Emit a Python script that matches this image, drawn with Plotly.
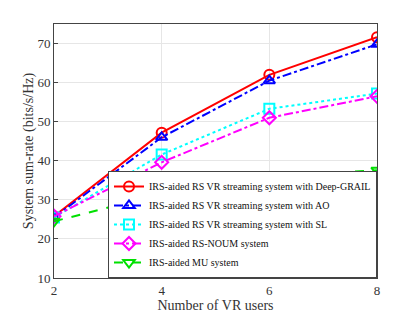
import plotly.graph_objects as go

users = [2, 4, 6, 8]
deep_grail = [25.8, 47.2, 62.0, 71.6]
ao = [25.5, 46.0, 60.5, 69.8]
sl = [25.5, 41.6, 53.3, 57.2]
noum = [25.8, 39.6, 51.0, 56.5]
mu = [24.5, 31.5, 36.0, 37.6]

names = [
    "IRS-aided RS VR streaming system with Deep-GRAIL",
    "IRS-aided RS VR streaming system with AO",
    "IRS-aided RS VR streaming system with SL",
    "IRS-aided RS-NOUM system",
    "IRS-aided MU system",
]
series = [deep_grail, ao, sl, noum, mu]
colors = ["#ff0000", "#0000ff", "#00ffff", "#ff00ff", "#00e000"]
dashes = ["solid", "dashdot", "dot", "dashdot", "dash"]
symbols = ["circle-open", "triangle-up-open", "square-open", "diamond-open", "triangle-down-open"]

SERIF = "Times New Roman, Liberation Serif, serif"

fig = go.Figure()
for n, s, c, d, m in zip(names, series, colors, dashes, symbols):
    fig.add_trace(go.Scatter(
        x=users, y=s, name=n, mode="lines+markers",
        line=dict(color=c, width=2, dash=d),
        marker=dict(symbol=m, size=10, color=c, line=dict(color=c, width=2)),
    ))

axis_common = dict(
    showline=True, linecolor="#444", linewidth=1, mirror=True,
    ticks="inside", ticklen=4, tickcolor="#444",
    showgrid=True, gridcolor="#e6e6e6", gridwidth=1, zeroline=False,
    tickfont=dict(family=SERIF, size=13, color="#333"),
    automargin=False,
)

fig.update_layout(
    width=407, height=305,
    margin=dict(l=46, r=38, t=16, b=35),
    paper_bgcolor="white", plot_bgcolor="white",
    font=dict(family=SERIF, color="#333"),
    xaxis=dict(range=[2, 8], tickvals=[2, 4, 6, 8],
               title=dict(text="Number of VR users", font=dict(family=SERIF, size=14), standoff=2),
               **axis_common),
    yaxis=dict(range=[10, 75], tickvals=[10, 20, 30, 40, 50, 60, 70],
               title=dict(text="System sum-rate (bits/s/Hz)", font=dict(family=SERIF, size=14), standoff=0),
               **axis_common),
    legend=dict(x=1, y=0, xanchor="right", yanchor="bottom",
                bgcolor="white", bordercolor="#444", borderwidth=1,
                font=dict(family=SERIF, size=10, color="#111"),
                tracegroupgap=0, itemwidth=30),
    showlegend=True,
)

fig.write_html("out.html")
